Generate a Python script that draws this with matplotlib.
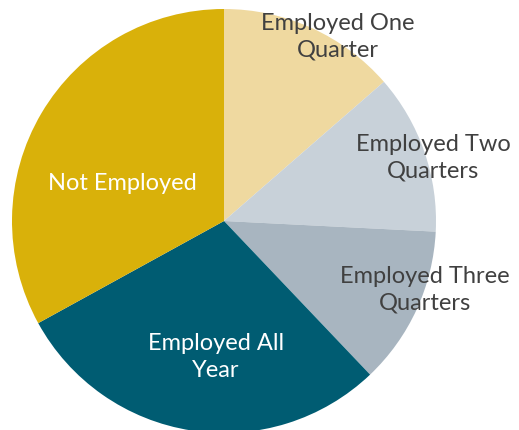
import matplotlib
matplotlib.use("Agg")
import matplotlib.pyplot as plt

# datos (porcentaje aproximado)
categorias = ["Employed One\nQuarter", "Employed Two\nQuarters", "Employed Three\nQuarters",
              "Employed All\nYear", "Not Employed"]
valores = [13.6, 12.2, 12.1, 29.1, 33.0]
colores = ["#EFD9A0", "#C8D1D9", "#A8B5C0", "#005C72", "#D9B10A"]
color_texto = ["#404040", "#404040", "#404040", "white", "white"]

# posiciones de las etiquetas (en unidades del radio)
pos_etiquetas = [(0.538, 0.868), (0.986, 0.297), (0.948, -0.325), (-0.038, -0.642), (-0.481, 0.179)]

fig = plt.figure(figsize=(5.19, 4.30), dpi=100)
ax = fig.add_axes([12 / 519, -3 / 430, 424 / 519, 424 / 430])
ax.pie(valores, colors=colores, startangle=90, counterclock=False, radius=1,
       wedgeprops=dict(linewidth=0))
ax.set_xlim(-1, 1)
ax.set_ylim(-1, 1)
ax.set_aspect("equal")
ax.axis("off")

for texto, (x, y), c in zip(categorias, pos_etiquetas, color_texto):
    ax.text(x, y, texto, ha="center", va="center", color=c, fontsize=17,
            family="Lato", linespacing=1.32, clip_on=False)

fig.savefig("out.png", dpi=100)
